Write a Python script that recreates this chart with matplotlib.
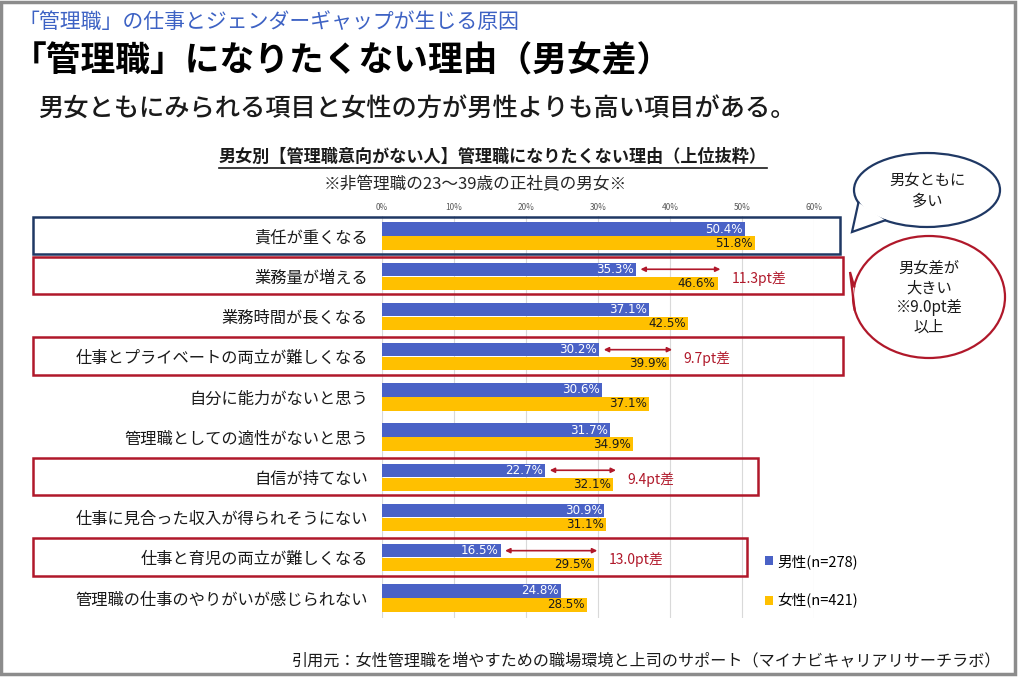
import matplotlib
matplotlib.use('Agg')
import matplotlib.pyplot as plt
import matplotlib.patches as mpatches
import matplotlib.transforms as mtransforms
import numpy as np

plt.rcParams['font.family'] = ['Noto Sans CJK JP', 'DejaVu Sans']

categories = ['責任が重くなる', '業務量が増える', '業務時間が長くなる',
              '仕事とプライベートの両立が難しくなる', '自分に能力がないと思う',
              '管理職としての適性がないと思う', '自信が持てない',
              '仕事に見合った収入が得られそうにない', '仕事と育児の両立が難しくなる',
              '管理職の仕事のやりがいが感じられない']
male = [50.4, 35.3, 37.1, 30.2, 30.6, 31.7, 22.7, 30.9, 16.5, 24.8]
female = [51.8, 46.6, 42.5, 39.9, 37.1, 34.9, 32.1, 31.1, 29.5, 28.5]
series_labels = ['男性(n=278)', '女性(n=421)']
x_ticks = [0, 10, 20, 30, 40, 50, 60]
gap_rows = [1, 3, 6, 8]

BLUE = '#4A62C6'
YELLOW = '#FFC000'
RED = '#B0182A'
NAVY = '#1F3864'

W, H = 1019, 677
fig = plt.figure(figsize=(W / 100, H / 100), dpi=100)
fig.patch.set_facecolor('white')


def fx(px):
  return px / W


def fy(py):
  return 1 - py / H


# chart axes (pixel layout)
ax_left, ax_right, ax_top, ax_bottom = 382, 814, 216, 618
ax = fig.add_axes([fx(ax_left), fy(ax_bottom), fx(ax_right - ax_left),
                   (ax_bottom - ax_top) / H])
ax.set_xlim(0, 60)
ax.set_ylim(len(categories) - 0.5, -0.5)

y = np.arange(len(categories))
off, bh = 0.175, 0.335
bars_m = ax.barh(y - off, male, height=bh, color=BLUE, label=series_labels[0],
                 zorder=3)
bars_f = ax.barh(y + off, female, height=bh, color=YELLOW,
                 label=series_labels[1], zorder=3)

for i in range(len(categories)):
  ax.text(male[i] - 0.3, i - off, f'{male[i]:.1f}%', ha='right', va='center',
          color='white', fontsize=8.6, family='DejaVu Sans', zorder=4)
  ax.text(female[i] - 0.3, i + off, f'{female[i]:.1f}%', ha='right',
          va='center', color='#1a1a1a', fontsize=8.6, family='DejaVu Sans',
          zorder=4)

for i in gap_rows:
  ax.annotate('', xy=(female[i] + 0.4, i - off), xytext=(male[i] + 0.6, i - off),
              arrowprops=dict(arrowstyle='<|-|>', color=RED, lw=1.2,
                              mutation_scale=7, shrinkA=0, shrinkB=0),
              zorder=5)
  ax.text(female[i] + 2.0, i + 0.05, f'{female[i] - male[i]:.1f}pt差',
          color=RED, fontsize=10, va='center', ha='left', zorder=5)

ax.set_xticks(x_ticks)
ax.set_xticklabels([f'{t}%' for t in x_ticks], fontsize=6, color='#595959')
ax.xaxis.tick_top()
ax.tick_params(axis='x', length=0, pad=3)
ax.set_yticks(y)
ax.set_yticklabels(categories, fontsize=11.7, color='#1a1a1a')
ax.tick_params(axis='y', length=0, pad=10)
ax.grid(axis='x', color='#d9d9d9', lw=0.8, zorder=0)
for s in ax.spines.values():
  s.set_visible(False)

leg = ax.legend(handles=[bars_m, bars_f], loc='upper left',
                bbox_to_anchor=(fx(752), fy(541)), bbox_transform=fig.transFigure,
                frameon=False, fontsize=10.5, handlelength=0.55,
                handleheight=0.55, handletextpad=0.3, labelspacing=1.65)

# overlay for text, boxes and bubbles in pixel coordinates
ov = fig.add_axes([0, 0, 1, 1], zorder=10)
ov.set_xlim(0, W)
ov.set_ylim(H, 0)
ov.axis('off')

ov.text(18, 22, '「管理職」の仕事とジェンダーギャップが生じる原因', fontsize=15,
        color='#3D62C4', va='center', ha='left')
ov.text(12, 61, '「管理職」になりたくない理由（男女差）', fontsize=25,
        color='black', va='center', ha='left', weight='bold')
ov.text(38, 110, '男女ともにみられる項目と女性の方が男性よりも高い項目がある。',
        fontsize=18.2, color='#1a1a1a', va='center', ha='left', weight='medium')
t = ov.text(493, 157, '男女別【管理職意向がない人】管理職になりたくない理由（上位抜粋）',
            fontsize=12.3, color='#1a1a1a', va='center', ha='center',
            weight='bold')
ov.text(475, 185, '※非管理職の23～39歳の正社員の男女※', fontsize=12,
        color='#262626', va='center', ha='center')
ov.text(1001, 661,
        '引用元：女性管理職を増やすための職場環境と上司のサポート（マイナビキャリアリサーチラボ）',
        fontsize=11.6, color='#1a1a1a', va='center', ha='right')

# underline of chart title
fig.canvas.draw()
bb = t.get_window_extent().transformed(ov.transData.inverted())
ov.plot([bb.x0, bb.x1], [168, 168], color='#1a1a1a', lw=1.2)

# row boxes: x in pixels, y in chart rows
blend = mtransforms.blended_transform_factory(ov.transData, ax.transData)
box_right = {0: 840, 1: 843, 3: 843, 6: 758, 8: 747}
for i, right in box_right.items():
  col = NAVY if i == 0 else RED
  ov.add_patch(mpatches.Rectangle((33, i - 0.48), right - 33, 0.93,
                                  transform=blend, fill=False, ec=col, lw=1.8))


def bubble(cx, cy, w, h, tip, a1, a2, col, lines):
  e = mpatches.Ellipse((cx, cy), w, h, fc='white', ec=col, lw=1.6, zorder=3)
  ov.add_patch(e)
  p1 = (cx + w / 2 * np.cos(np.radians(a1)), cy - h / 2 * np.sin(np.radians(a1)))
  p2 = (cx + w / 2 * np.cos(np.radians(a2)), cy - h / 2 * np.sin(np.radians(a2)))
  ov.add_patch(mpatches.Polygon([tip, p1, p2], closed=True, fc='white',
                                ec='none', zorder=4))
  ov.plot([p1[0], tip[0], p2[0]], [p1[1], tip[1], p2[1]], color=col, lw=1.6,
          zorder=5, solid_joinstyle='miter')
  ov.text(cx, cy + 1, lines, ha='center', va='center', fontsize=11,
          color='#1a1a1a', linespacing=1.2, zorder=6)


bubble(927, 190, 146, 74, (852, 232), 200, 235, NAVY, '男女ともに\n多い')
bubble(929, 297, 152, 122, (850, 272), 170, 192, RED,
       '男女差が\n大きい\n※9.0pt差\n以上')

# outer frame
ov.add_patch(mpatches.Rectangle((1.5, 1.5), W - 5, H - 5, fill=False,
                                ec='#8c8c8c', lw=2.5))

fig.savefig('out.png', dpi=100, facecolor='white')
